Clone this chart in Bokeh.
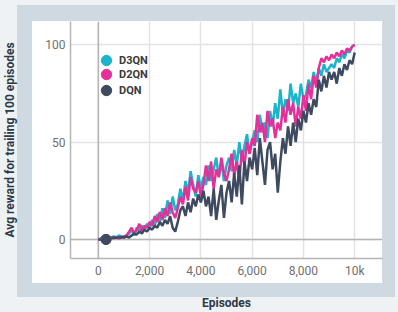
from bokeh.plotting import figure
from bokeh.models import Range1d, FixedTicker, Span, Legend, LegendItem
from bokeh.embed import file_html
from bokeh.resources import INLINE

# ---- data ----
episodes = list(range(0, 10001, 100))
d3qn = [0, 0.5, 0, 1, 0.5, 1, 1.5, 1, 2, 1.5, 1,
        2, 3, 5, 2, 6, 4, 7, 5, 8, 6,
        10, 7, 13, 9, 16, 11, 20, 13, 22, 15,
        18, 26, 20, 30, 24, 35, 28, 22, 33, 26,
        32, 28, 38, 30, 36, 42, 32, 40, 30, 38,
        42, 35, 46, 38, 50, 40, 48, 54, 44, 50,
        56, 50, 64, 55, 60, 52, 66, 58, 70, 62,
        77, 64, 72, 66, 80, 70, 75, 68, 80, 72,
        74, 82, 78, 86, 80, 88, 84, 90, 86, 88,
        90, 88, 93, 91, 95, 93, 97, 96, 99, 100]
d2qn = [0, 0, 0.5, 0, 0.5, 1, 0.5, 1, 0.5, 1, 1.5,
        2, 4, 6, 3, 5, 8, 4, 7, 6, 9,
        7, 12, 9, 14, 10, 16, 12, 19, 14, 11,
        16, 22, 18, 27, 20, 32, 26, 24, 30, 22,
        28, 38, 30, 40, 26, 36, 32, 42, 34, 30,
        36, 44, 33, 40, 30, 46, 38, 50, 44, 52,
        48, 64, 55, 60, 50, 66, 58, 62, 52, 60,
        56, 68, 60, 72, 64, 70, 58, 68, 62, 74,
        66, 80, 72, 84, 78, 88, 93, 91, 94,
        92, 95, 93, 96, 94, 97, 95, 98, 97, 99, 100]
dqn = [0, 0, 0, 0.5, 0.3, 0.5, 1, 0.8, 1, 1.2, 1,
       1.5, 1, 2, 3, 2.5, 4, 3, 5, 4, 6,
       5, 7, 6, 9, 7, 10, 8, 12, 6, 4,
       9, 15, 17, 12, 19, 14, 21, 17, 23, 19,
       25, 17, 22, 12, 26, 10, 20, 28, 11, 24,
       30, 19, 34, 22, 38, 18, 40, 30, 42, 36,
       47, 33, 52, 40, 28, 46, 50, 36, 44, 24,
       40, 52, 44, 58, 48, 60, 50, 62, 56, 66,
       60, 70, 64, 72, 68, 82, 76, 84, 78, 86,
       82, 86, 80, 88, 84, 90, 87, 92, 90, 96]
marker_episode = [300]
marker_reward = [0]
series_names = ["D3QN", "D2QN", "DQN"]
x_ticks = [0, 2000, 4000, 6000, 8000, 10000]
x_tick_labels = ["0", "2,000", "4,000", "6,000", "8,000", "10k"]
y_ticks = [0, 50, 100]

# ---- style ----
LIGHT = "#eef2f5"
GRAY = "#cfd9e1"
CYAN = "#1ab4cb"
PINK = "#e5309a"
DARK = "#3d4a5f"
AXIS = "#b4b4b4"
GRID = "#e3e3e3"
FONT = "Roboto"

X0, X1 = -1085, 11085
Y0, Y1 = -9.8, 111.9
W, H = 398, 312
FL, FR, FT, FB = 68, 382, 21, 258

# panel backgrounds (grey frame + white card) painted behind a transparent canvas
bg = ("linear-gradient(#ffffff,#ffffff) 32px 21px / 350px 262px no-repeat, "
      "linear-gradient(%s,%s) 17px 5px / 378px 292px no-repeat, %s" % (GRAY, GRAY, LIGHT))

p = figure(width=W, height=H, output_backend="svg", toolbar_location=None,
           x_range=Range1d(X0, X1), y_range=Range1d(Y0, Y1),
           min_border_left=FL, min_border_right=W - FR,
           min_border_top=FT, min_border_bottom=H - FB,
           styles={"background": bg})
p.border_fill_alpha = 0
p.background_fill_alpha = 0
p.outline_line_color = None

# axes
p.xaxis.ticker = FixedTicker(ticks=x_ticks)
p.xaxis.major_label_overrides = dict(zip(x_ticks, x_tick_labels))
p.yaxis.ticker = FixedTicker(ticks=y_ticks)
for ax in (p.xaxis, p.yaxis):
    ax.major_tick_line_color = None
    ax.minor_tick_line_color = None
    ax.major_tick_out = 0
    ax.major_tick_in = 0
    ax.minor_tick_out = 0
    ax.minor_tick_in = 0
    ax.axis_line_color = AXIS
    ax.axis_line_width = 1.5
    ax.major_label_text_font = FONT
    ax.major_label_text_font_size = "12px"
    ax.major_label_text_color = "#707070"
    ax.axis_label_text_font = FONT
    ax.axis_label_text_font_size = "12px"
    ax.axis_label_text_font_style = "bold"
    ax.axis_label_text_color = "#2c3a48"
p.xaxis.axis_label = "Episodes"
p.yaxis.axis_label = "Avg reward for trailing 100 episodes"
p.xaxis.major_label_standoff = 5
p.yaxis.major_label_standoff = 5
p.xaxis.axis_label_standoff = 15
p.yaxis.axis_label_standoff = 25

p.grid.grid_line_color = GRID
p.grid.grid_line_width = 1.5

p.add_layout(Span(location=0, dimension="height", line_color=AXIS, line_width=1.5, level="underlay"))
p.add_layout(Span(location=0, dimension="width", line_color=AXIS, line_width=1.5, level="underlay"))

# series
p.line(episodes, d3qn, color=CYAN, line_width=2.5)
p.line(episodes, d2qn, color=PINK, line_width=2.5)
p.line(episodes, dqn, color=DARK, line_width=2.5)
leg_c = p.scatter(marker_episode, marker_reward, size=10, color=CYAN)
leg_p = p.scatter(marker_episode, marker_reward, size=10, color=PINK)
dot = p.scatter(marker_episode, marker_reward, size=10, color=DARK)

# one single-item legend per series, stacked ~15px apart
centers = [60, 74, 90]
cx = 104
for name, rend, cy in zip(series_names, [leg_c, leg_p, dot], centers):
    lg = Legend(items=[LegendItem(label=name, renderers=[rend])],
                location=(cx - 13 - FL, FB - cy - 13), padding=0, margin=0,
                glyph_width=26, glyph_height=26, label_standoff=0,
                label_text_font=FONT, label_text_font_size="11px",
                label_text_font_style="bold", label_text_color="#3a3a3a",
                background_fill_alpha=0, border_line_color=None)
    p.add_layout(lg)

open("out.html", "w").write(file_html(p, INLINE))
